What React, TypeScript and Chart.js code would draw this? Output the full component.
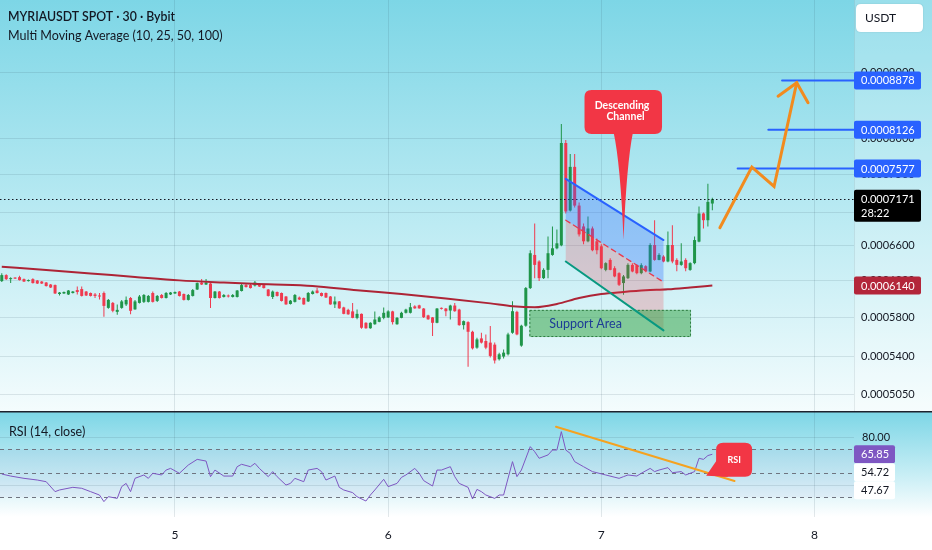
import React, { useEffect, useRef } from "react";
import { Chart, registerables } from "chart.js";

Chart.register(...registerables);

const FONT = "Lato, 'Open Sans', 'DejaVu Sans', sans-serif";
Chart.defaults.font.family = FONT;
Chart.defaults.color = "#131722";

// ---------------- texts ----------------
const titleText = "MYRIAUSDT SPOT · 30 · Bybit";
const indicatorText = "Multi Moving Average (10, 25, 50, 100)";
const rsiTitle = "RSI (14, close)";
const currencyLabel = "USDT";

// ---------------- 30-minute candles (index 0 = first visible candle) ----------------
const candleOpen = [
  0.0006189, 0.0006256, 0.0006211, 0.0006228, 0.0006233, 0.0006211, 0.0006189, 0.0006211, 0.0006195, 0.0006184,
  0.0006173, 0.0006151, 0.0006145, 0.0006047, 0.0006053, 0.0006042, 0.0006058, 0.000609, 0.0006101, 0.0006074,
  0.0006058, 0.0006042, 0.0006031, 0.0006058, 0.0005898, 0.0005951, 0.0005856, 0.0005898, 0.0005935, 0.0006004,
  0.0005882, 0.0005951, 0.0005962, 0.0005962, 0.0006058, 0.0005972, 0.0006036, 0.0006004, 0.0006042, 0.0006053,
  0.0006074, 0.0006047, 0.0005983, 0.0006026, 0.0006096, 0.0006173, 0.0006151, 0.0006162, 0.0006004, 0.0006074,
  0.0006015, 0.0006031, 0.0006015, 0.0006015, 0.000608, 0.0006145, 0.0006145, 0.000614, 0.0006151, 0.0006145,
  0.0006096, 0.0006015, 0.0006069, 0.0006058, 0.000602, 0.000594, 0.0005962, 0.0006009, 0.0006004, 0.0005967,
  0.0006047, 0.0006085, 0.0006058, 0.0006058, 0.000602, 0.0005935, 0.0005967, 0.0005903, 0.0005877, 0.0005861,
  0.0005793, 0.0005835, 0.0005742, 0.0005686, 0.0005727, 0.0005752, 0.0005793, 0.0005798, 0.0005861, 0.0005727,
  0.0005793, 0.0005846, 0.0005846, 0.0005914, 0.0005925, 0.0005891, 0.0005819, 0.0005798, 0.0005742, 0.0005898,
  0.0005891, 0.000587, 0.0005923, 0.000588, 0.0005718, 0.0005749, 0.000565, 0.0005491, 0.0005583, 0.0005557,
  0.0005541, 0.0005521, 0.0005378, 0.0005404, 0.0005426, 0.000564, 0.0005856, 0.0005511, 0.0005712, 0.0006112,
  0.0006487, 0.0006411, 0.0006222, 0.0006315, 0.0006487, 0.0006565, 0.00066, 0.0007933, 0.0007026, 0.00076,
  0.0007089, 0.0006828, 0.0006648, 0.0006803, 0.0006648, 0.0006589, 0.0006315, 0.0006429, 0.0006334, 0.0006278,
  0.0006167, 0.0006222, 0.0006372, 0.0006369, 0.0006278, 0.0006357, 0.0006297, 0.0006604, 0.0006429, 0.0006468,
  0.0006411, 0.0006604, 0.0006429, 0.0006372, 0.0006429, 0.0006315, 0.0006392, 0.0006644, 0.0006989, 0.0006905,
  0.0007115,
];
const candleHigh = [
  0.0006278, 0.0006267, 0.0006233, 0.0006233, 0.000625, 0.0006217, 0.0006206, 0.0006222, 0.00062, 0.0006189,
  0.0006178, 0.0006156, 0.0006151, 0.0006069, 0.0006074, 0.000609, 0.000608, 0.0006129, 0.0006129, 0.000608,
  0.0006063, 0.0006058, 0.0006058, 0.0006074, 0.0005993, 0.0005962, 0.0005934, 0.0005983, 0.000602, 0.0006015,
  0.0005983, 0.0006036, 0.0006047, 0.0006036, 0.0006074, 0.0006036, 0.0006047, 0.0006069, 0.0006069, 0.0006074,
  0.000608, 0.0006053, 0.0006047, 0.0006101, 0.0006173, 0.0006211, 0.0006211, 0.0006167, 0.000608, 0.000608,
  0.0006047, 0.0006042, 0.0006047, 0.000609, 0.0006156, 0.0006167, 0.0006156, 0.0006189, 0.0006156, 0.0006151,
  0.0006101, 0.0006085, 0.0006074, 0.0006063, 0.0006026, 0.0005983, 0.0006047, 0.000602, 0.0006009, 0.0006069,
  0.0006085, 0.0006112, 0.0006063, 0.0006063, 0.0006026, 0.000602, 0.0005972, 0.0005909, 0.0005888, 0.0005951,
  0.0005882, 0.000584, 0.0005747, 0.0005747, 0.0005861, 0.0005809, 0.0005903, 0.0005872, 0.0005867, 0.0005803,
  0.0005856, 0.0005888, 0.0005951, 0.0005925, 0.000593, 0.0005898, 0.0005825, 0.0005803, 0.0005898, 0.0005903,
  0.0005898, 0.000593, 0.0005951, 0.0005888, 0.0005767, 0.0005757, 0.0005661, 0.000559, 0.000564, 0.0005623,
  0.0005708, 0.0005541, 0.0005442, 0.0005472, 0.000564, 0.0005969, 0.0005867, 0.0005722, 0.0006123, 0.0006542,
  0.0006865, 0.0006426, 0.0006334, 0.0006707, 0.0006828, 0.0006791, 0.0008207, 0.0007976, 0.0007779, 0.0007779,
  0.0007127, 0.0006865, 0.0006951, 0.0006828, 0.0006683, 0.0006612, 0.0006403, 0.0006449, 0.0006357, 0.0006289,
  0.0006256, 0.0006392, 0.0006392, 0.000638, 0.0006392, 0.0006369, 0.0006624, 0.0006905, 0.0006507, 0.0006484,
  0.0006767, 0.0006844, 0.0006449, 0.0006624, 0.0006449, 0.0006403, 0.0006707, 0.0007076, 0.0007001, 0.0007373,
  0.0007191,
];
const candleLow = [
  0.0006178, 0.00062, 0.0006167, 0.0006211, 0.0006195, 0.0006178, 0.0006184, 0.0006162, 0.0006156, 0.0006156,
  0.0006129, 0.0006112, 0.0006047, 0.0006031, 0.0006047, 0.0006036, 0.0006053, 0.0006042, 0.000602, 0.0006026,
  0.000602, 0.0006004, 0.0005988, 0.0005804, 0.0005888, 0.0005853, 0.0005825, 0.0005888, 0.0005919, 0.000583,
  0.0005877, 0.0005946, 0.0005951, 0.0005956, 0.0005956, 0.0005962, 0.0005999, 0.0005999, 0.0006036, 0.0006047,
  0.000602, 0.0005978, 0.0005978, 0.000602, 0.000609, 0.0006145, 0.0006145, 0.0005898, 0.0005999, 0.0005999,
  0.0006009, 0.0006009, 0.0006009, 0.0006009, 0.0006074, 0.0006118, 0.0006107, 0.0006129, 0.0006123, 0.0006107,
  0.000602, 0.0005993, 0.000602, 0.0005967, 0.000593, 0.0005935, 0.0005956, 0.0005983, 0.000593, 0.0005962,
  0.0006042, 0.0006053, 0.000602, 0.0006004, 0.000593, 0.0005898, 0.0005888, 0.000583, 0.0005825, 0.0005788,
  0.0005778, 0.0005681, 0.0005681, 0.0005681, 0.0005722, 0.0005747, 0.0005778, 0.0005793, 0.0005725, 0.0005722,
  0.0005788, 0.000584, 0.000584, 0.0005888, 0.0005888, 0.0005793, 0.0005773, 0.0005607, 0.0005737, 0.0005882,
  0.0005811, 0.0005776, 0.0005856, 0.0005711, 0.0005674, 0.0005306, 0.0005472, 0.0005481, 0.0005531, 0.0005475,
  0.0005394, 0.0005337, 0.0005366, 0.0005385, 0.0005413, 0.000563, 0.0005615, 0.0005501, 0.0005701, 0.0006101,
  0.0006222, 0.0006189, 0.0006211, 0.0006222, 0.0006478, 0.0006553, 0.0006589, 0.0006989, 0.0007014, 0.0007064,
  0.0006707, 0.0006612, 0.0006636, 0.000653, 0.0006495, 0.0006323, 0.00063, 0.0006312, 0.0006233, 0.0006134,
  0.000604, 0.0006211, 0.0006289, 0.0006267, 0.0006267, 0.0006289, 0.0006289, 0.000642, 0.0006426, 0.0006403,
  0.0006403, 0.0006392, 0.00063, 0.0006363, 0.00063, 0.0006306, 0.000638, 0.0006636, 0.0006803, 0.0006828,
  0.000703,
];
const candleClose = [
  0.0006256, 0.0006211, 0.0006222, 0.0006217, 0.00062, 0.0006184, 0.00062, 0.0006167, 0.0006162, 0.0006162,
  0.0006134, 0.0006118, 0.0006053, 0.0006063, 0.0006069, 0.0006085, 0.0006074, 0.0006069, 0.0006026, 0.0006031,
  0.0006026, 0.0006026, 0.000602, 0.0005919, 0.0005983, 0.0005867, 0.0005877, 0.0005967, 0.0005983, 0.0005867,
  0.0005967, 0.000602, 0.0006036, 0.0006026, 0.0005962, 0.0006026, 0.0006004, 0.0006058, 0.0006063, 0.0006069,
  0.0006026, 0.0005983, 0.0006036, 0.000609, 0.0006167, 0.0006151, 0.0006173, 0.0006004, 0.0006074, 0.0006004,
  0.0006036, 0.000602, 0.0006036, 0.0006085, 0.0006145, 0.0006123, 0.0006112, 0.0006173, 0.0006129, 0.0006112,
  0.0006026, 0.0006074, 0.0006026, 0.0005972, 0.0005935, 0.0005975, 0.0006036, 0.0005988, 0.0005935, 0.0006058,
  0.0006074, 0.0006058, 0.0006026, 0.0006009, 0.0005935, 0.0005967, 0.0005893, 0.0005835, 0.000583, 0.0005793,
  0.0005835, 0.0005691, 0.0005686, 0.0005742, 0.0005776, 0.0005798, 0.0005846, 0.0005861, 0.0005749, 0.0005793,
  0.0005846, 0.000588, 0.0005905, 0.0005893, 0.0005893, 0.00058, 0.0005778, 0.0005742, 0.0005891, 0.0005888,
  0.0005863, 0.0005923, 0.0005863, 0.0005718, 0.0005759, 0.000565, 0.0005484, 0.0005573, 0.0005541, 0.0005491,
  0.000541, 0.0005366, 0.0005426, 0.0005442, 0.0005623, 0.0005863, 0.0005623, 0.0005712, 0.0006112, 0.0006507,
  0.0006372, 0.0006222, 0.0006315, 0.0006507, 0.0006565, 0.0006624, 0.0007933, 0.0007014, 0.00076, 0.0007089,
  0.0006731, 0.0006648, 0.0006803, 0.0006542, 0.0006542, 0.0006334, 0.0006392, 0.0006315, 0.0006241, 0.0006148,
  0.0006241, 0.0006372, 0.0006297, 0.0006278, 0.0006369, 0.00063, 0.0006604, 0.0006429, 0.0006487, 0.0006411,
  0.0006604, 0.0006411, 0.0006372, 0.0006411, 0.0006334, 0.0006392, 0.0006663, 0.0006989, 0.0006905, 0.0007136,
  0.0007171,
];

// ---------------- time axis ----------------
const dayLabels = ["5", "6", "7", "8"];
const dayStartIndex = [39, 87, 135, 183];
const xRange = [-0.4, 191.9];

// ---------------- price axis ----------------
const priceTicks = [0.000505, 0.00054, 0.00058, 0.00062, 0.00066, 0.0007, 0.00075, 0.0008, 0.0009];
const priceRange = [0.00049247, 0.00102586];
const lastPrice = 0.0007171;
const countdown = "28:22";

// ---------------- moving average (100) ----------------
const maIndex = [0, 10, 20, 30, 40, 50, 60, 70, 80, 90, 100, 110, 115, 120, 125, 130, 135, 140, 145, 150, 155, 160];
const maValue = [
  0.0006351, 0.0006314, 0.0006275, 0.0006235, 0.0006197, 0.0006173, 0.0006153, 0.0006134, 0.0006087, 0.0006047,
  0.0005999, 0.0005946, 0.0005916, 0.0005905, 0.000594, 0.0006004, 0.0006047, 0.0006069, 0.0006087, 0.0006098,
  0.0006118, 0.000614,
];
const maLast = 0.000614;

// ---------------- drawings ----------------
const targetLevels = [0.0007577, 0.0008126, 0.0008878];
const targetStartIndex = [165.7, 172.6, 175.7];

const channelIndex = [127, 149];
const channelUpper = [0.0007438, 0.0006663];
const channelMiddle = [0.0006905, 0.0006178];
const channelLower = [0.0006411, 0.0005664];

const supportIndex = [118.8, 155.2];
const supportPrice = [0.0005597, 0.0005877];
const supportLabel = "Support Area";

const projectionIndex = [161.7, 168.9, 173.9, 179.0];
const projectionPrice = [0.0006812, 0.0007596, 0.0007337, 0.0008841];

const calloutIndex = 140;
const calloutPrice = 0.0006663;
const calloutLines = ["Descending", "Channel"];

// ---------------- RSI (14) ----------------
const rsiIndex = [
  0, 2, 5, 8, 10, 12, 13, 16, 18, 20, 22, 23, 24, 26, 27, 28, 29, 30, 32, 33, 34, 36, 37, 38, 40, 42, 44, 46, 47, 48,
  50, 52, 53, 54, 56, 57, 58, 60, 61, 62, 64, 65, 66, 68, 69, 71, 72, 73, 75, 76, 77, 79, 80, 82, 83, 84, 86, 87, 89,
  90, 91, 93, 94, 95, 97, 98, 99, 101, 102, 103, 105, 106, 107, 108, 109, 111, 112, 113, 115, 116, 117, 119, 120, 121,
  123, 124, 125, 126, 127, 128, 129, 131, 133, 136, 139, 140, 141, 143, 144, 146, 147, 148, 150, 151, 153, 154, 156,
  157, 158, 159, 160,
];
const rsiValue = [
  49.4, 47.7, 45.8, 44.4, 43.0, 34.7, 36.1, 38.3, 37.5, 34.7, 31.9, 26.4, 30.5, 29.1, 38.9, 41.6, 34.7, 45.8, 48.6, 45.8,
  50.0, 48.6, 52.7, 54.1, 50.0, 56.9, 61.6, 60.2, 47.2, 52.7, 47.7, 47.7, 55.5, 57.5, 55.5, 58.3, 54.1, 47.2, 51.4,
  47.2, 40.2, 41.6, 45.8, 43.0, 52.7, 54.1, 51.4, 44.4, 47.7, 38.3, 36.1, 33.9, 30.5, 26.9, 31.9, 36.1, 45.0, 38.9,
  41.6, 46.6, 48.6, 54.1, 50.0, 43.9, 39.4, 52.7, 52.7, 55.5, 47.2, 41.6, 38.3, 28.6, 36.6, 34.7, 31.9, 29.1, 31.9,
  31.9, 59.7, 47.2, 52.7, 72.2, 68.0, 62.5, 65.3, 69.4, 69.4, 84.7, 69.4, 66.6, 59.7, 55.5, 51.4, 48.6, 45.8, 47.2,
  48.6, 47.7, 50.0, 54.1, 51.4, 52.7, 54.7, 50.5, 51.4, 48.6, 51.4, 62.5, 61.6, 64.8, 65.85,
];
const rsiRange = [13.58, 101.08];
const rsiGridTicks = [40, 80];
const rsiBands = [70, 50, 30];
const rsiBadgeValues = [65.85, 54.72, 47.67];
const rsiTrendIndex = [124.8, 165];
const rsiTrendValue = [88.8, 43.6];
const rsiCalloutIndex = 158.6;
const rsiCalloutValue = 48;
const rsiCalloutText = "RSI";

// ---------------- styles ----------------
const UP = "#1f9549";
const DOWN = "#ef3a4f";
const GRID = "rgba(50,80,95,0.13)";
const AXIS_W = 78;

function rr(ctx: any, x: number, y: number, w: number, h: number, r: number) {
  ctx.beginPath();
  ctx.moveTo(x + r, y);
  ctx.lineTo(x + w - r, y);
  ctx.quadraticCurveTo(x + w, y, x + w, y + r);
  ctx.lineTo(x + w, y + h - r);
  ctx.quadraticCurveTo(x + w, y + h, x + w - r, y + h);
  ctx.lineTo(x + r, y + h);
  ctx.quadraticCurveTo(x, y + h, x, y + h - r);
  ctx.lineTo(x, y + r);
  ctx.quadraticCurveTo(x, y, x + r, y);
  ctx.closePath();
}

function badge(ctx: any, x: number, yc: number, w: number, h: number, bg: string, fg: string, text: string) {
  ctx.fillStyle = bg;
  rr(ctx, x, yc - h / 2, w, h, 2);
  ctx.fill();
  ctx.fillStyle = fg;
  ctx.font = `11px ${FONT}`;
  ctx.textAlign = "left";
  ctx.textBaseline = "middle";
  ctx.fillText(text, x + 7, yc + 0.5);
}

const isUp = (i: number) => candleClose[i] >= candleOpen[i];

const mainPlugin = {
  id: "mainDecor",
  beforeDraw(chart: any) {
    const { ctx, chartArea: ca, width, height } = chart;
    ctx.save();
    const g = ctx.createLinearGradient(0, 0, 0, height);
    g.addColorStop(0, "#7dd6e6");
    g.addColorStop(0.55, "#bdebf3");
    g.addColorStop(1, "#f4fcfd");
    ctx.fillStyle = g;
    ctx.fillRect(0, 0, width, height);
    ctx.fillStyle = "rgba(255,255,255,0.22)";
    ctx.fillRect(ca.right, 0, width - ca.right, height);
    ctx.fillStyle = "rgba(40,70,80,0.10)";
    ctx.fillRect(ca.right, 0, 1, height);
    ctx.restore();
  },
  afterDatasetsDraw(chart: any) {
    const { ctx, chartArea: ca } = chart;
    const xs = chart.scales.x;
    const ys = chart.scales.y;
    const X = (v: number) => xs.getPixelForValue(v);
    const Y = (v: number) => ys.getPixelForValue(v);
    ctx.save();
    ctx.beginPath();
    ctx.rect(ca.left, ca.top, ca.right - ca.left, ca.bottom - ca.top);
    ctx.clip();

    // last price dotted line
    const yl = Math.round(Y(lastPrice)) + 0.5;
    ctx.strokeStyle = "#131722";
    ctx.lineWidth = 1;
    ctx.setLineDash([1.5, 2.5]);
    ctx.beginPath();
    ctx.moveTo(ca.left, yl);
    ctx.lineTo(ca.right, yl);
    ctx.stroke();
    ctx.setLineDash([]);

    // channel
    const x0 = X(channelIndex[0]);
    const x1 = X(channelIndex[1]);
    const u0 = Y(channelUpper[0]), u1 = Y(channelUpper[1]);
    const m0 = Y(channelMiddle[0]), m1 = Y(channelMiddle[1]);
    const l0 = Y(channelLower[0]), l1 = Y(channelLower[1]);
    ctx.fillStyle = "rgba(41,98,255,0.3)";
    ctx.beginPath();
    ctx.moveTo(x0, u0); ctx.lineTo(x1, u1); ctx.lineTo(x1, m1); ctx.lineTo(x0, m0);
    ctx.closePath();
    ctx.fill();
    ctx.fillStyle = "rgba(242,54,69,0.22)";
    ctx.beginPath();
    ctx.moveTo(x0, m0); ctx.lineTo(x1, m1); ctx.lineTo(x1, l1); ctx.lineTo(x0, l0);
    ctx.closePath();
    ctx.fill();

    // support area
    const sx0 = X(supportIndex[0]), sx1 = X(supportIndex[1]);
    const sy0 = Y(supportPrice[1]), sy1 = Y(supportPrice[0]);
    ctx.fillStyle = "rgba(56,165,75,0.55)";
    ctx.fillRect(sx0, sy0, sx1 - sx0, sy1 - sy0);
    ctx.strokeStyle = "rgba(30,110,50,0.85)";
    ctx.lineWidth = 1;
    ctx.setLineDash([2, 2]);
    ctx.strokeRect(sx0 + 0.5, sy0 + 0.5, sx1 - sx0 - 1, sy1 - sy0 - 1);
    ctx.setLineDash([]);
    ctx.fillStyle = "#1d3c96";
    ctx.font = `12.5px ${FONT}`;
    ctx.textAlign = "left";
    ctx.textBaseline = "middle";
    ctx.fillText(supportLabel, sx0 + 20, (sy0 + sy1) / 2 + 0.5);

    // channel lines
    ctx.lineCap = "round";
    ctx.strokeStyle = "#2962ff";
    ctx.lineWidth = 2;
    ctx.beginPath(); ctx.moveTo(x0, u0); ctx.lineTo(x1, u1); ctx.stroke();
    ctx.strokeStyle = "#e8394d";
    ctx.lineWidth = 1.3;
    ctx.setLineDash([5, 4]);
    ctx.beginPath(); ctx.moveTo(x0, m0); ctx.lineTo(x1, m1); ctx.stroke();
    ctx.setLineDash([]);
    ctx.strokeStyle = "#089981";
    ctx.lineWidth = 2;
    ctx.beginPath(); ctx.moveTo(x0, l0); ctx.lineTo(x1, l1); ctx.stroke();

    // target lines
    ctx.strokeStyle = "#2962ff";
    ctx.lineWidth = 2;
    targetLevels.forEach((lv, k) => {
      const y = Y(lv);
      ctx.beginPath();
      ctx.moveTo(X(targetStartIndex[k]), y);
      ctx.lineTo(ca.right, y);
      ctx.stroke();
    });

    // projection path with arrow
    ctx.strokeStyle = "#f28b1e";
    ctx.lineWidth = 3;
    ctx.lineJoin = "miter";
    ctx.beginPath();
    projectionIndex.forEach((ix, k) => {
      const px = X(ix), py = Y(projectionPrice[k]);
      if (k === 0) ctx.moveTo(px, py);
      else ctx.lineTo(px, py);
    });
    ctx.stroke();
    const n = projectionIndex.length;
    const tx = X(projectionIndex[n - 1]), ty = Y(projectionPrice[n - 1]);
    const bx = X(projectionIndex[n - 2]), by = Y(projectionPrice[n - 2]);
    const back = Math.atan2(by - ty, bx - tx);
    const al = 23;
    ctx.beginPath();
    ctx.moveTo(tx + al * Math.cos(back + 0.73), ty + al * Math.sin(back + 0.73));
    ctx.lineTo(tx, ty);
    ctx.lineTo(tx + al * Math.cos(back - 0.73), ty + al * Math.sin(back - 0.73));
    ctx.stroke();

    // callout
    const cx = X(calloutIndex), cy = Y(calloutPrice);
    const boxL = cx - 39, boxR = cx + 38.5, boxT = cy - 150, boxB = cy - 106;
    ctx.fillStyle = "#f23645";
    rr(ctx, boxL, boxT, boxR - boxL, boxB - boxT, 7);
    ctx.fill();
    ctx.beginPath();
    ctx.moveTo(cx - 10, boxB - 2);
    ctx.quadraticCurveTo(cx - 3, boxB + 30, cx, cy);
    ctx.quadraticCurveTo(cx + 3, boxB + 30, cx + 9.5, boxB - 2);
    ctx.closePath();
    ctx.fill();
    ctx.fillStyle = "#ffffff";
    ctx.font = `bold 10.5px ${FONT}`;
    ctx.textAlign = "center";
    ctx.textBaseline = "middle";
    ctx.fillText(calloutLines[0], cx - 1.5, boxT + 16);
    ctx.fillText(calloutLines[1], cx + 2, boxT + 27);

    ctx.restore();
  },
  afterDraw(chart: any) {
    const { ctx, chartArea: ca } = chart;
    const ys = chart.scales.y;
    const Y = (v: number) => ys.getPixelForValue(v);
    ctx.save();
    const bx = ca.right;
    targetLevels.forEach((lv) => badge(ctx, bx, Y(lv), 67, 18, "#2962ff", "#ffffff", lv.toFixed(7)));
    // last price + countdown
    const yl = Y(lastPrice);
    ctx.fillStyle = "#000000";
    rr(ctx, bx, yl - 9.5, 67, 32, 2);
    ctx.fill();
    ctx.fillStyle = "#ffffff";
    ctx.font = `11px ${FONT}`;
    ctx.textAlign = "left";
    ctx.textBaseline = "middle";
    ctx.fillText(lastPrice.toFixed(7), bx + 7, yl + 0.5);
    ctx.fillText(countdown, bx + 7, yl + 14.5);
    // MA value
    badge(ctx, bx, Y(maLast), 67, 18, "#b3263a", "#ffffff", maLast.toFixed(7));

    // currency button
    ctx.fillStyle = "#ffffff";
    ctx.shadowColor = "rgba(0,0,0,0.12)";
    ctx.shadowBlur = 2;
    rr(ctx, bx + 2, 4, 67, 28, 5);
    ctx.fill();
    ctx.shadowBlur = 0;
    ctx.fillStyle = "#131722";
    ctx.font = `12px ${FONT}`;
    ctx.fillText(currencyLabel, bx + 11, 18.5);

    // titles
    ctx.fillStyle = "#131722";
    ctx.font = `600 12.5px ${FONT}`;
    ctx.fillText(titleText, 8, 16.5, 167);
    ctx.font = `12.5px ${FONT}`;
    ctx.fillText(indicatorText, 8, 35.5, 219);
    ctx.restore();
  },
};

const rsiPlugin = {
  id: "rsiDecor",
  beforeDraw(chart: any) {
    const { ctx, chartArea: ca, width, height } = chart;
    ctx.save();
    ctx.fillStyle = "#ffffff";
    ctx.fillRect(0, 0, width, height);
    const g = ctx.createLinearGradient(0, ca.top, 0, ca.bottom);
    g.addColorStop(0, "#7dd6e6");
    g.addColorStop(0.6, "#c8eef5");
    g.addColorStop(1, "#ffffff");
    ctx.fillStyle = g;
    ctx.fillRect(0, 0, width, ca.bottom);
    const ys = chart.scales.y;
    ctx.fillStyle = "rgba(126,87,194,0.06)";
    const yTop = ys.getPixelForValue(rsiBands[0]);
    const yBot = ys.getPixelForValue(rsiBands[rsiBands.length - 1]);
    ctx.fillRect(ca.left, yTop, ca.right - ca.left, yBot - yTop);
    ctx.restore();
  },
  beforeDatasetsDraw(chart: any) {
    const { ctx, chartArea: ca } = chart;
    const ys = chart.scales.y;
    ctx.save();
    ctx.strokeStyle = "#6f7480";
    ctx.lineWidth = 1;
    ctx.setLineDash([4, 4]);
    rsiBands.forEach((b) => {
      const y = Math.round(ys.getPixelForValue(b)) + 0.5;
      ctx.beginPath();
      ctx.moveTo(ca.left, y);
      ctx.lineTo(ca.right, y);
      ctx.stroke();
    });
    ctx.restore();
  },
  afterDatasetsDraw(chart: any) {
    const { ctx, chartArea: ca } = chart;
    const xs = chart.scales.x;
    const ys = chart.scales.y;
    const X = (v: number) => xs.getPixelForValue(v);
    const Y = (v: number) => ys.getPixelForValue(v);
    ctx.save();
    ctx.beginPath();
    ctx.rect(ca.left, ca.top, ca.right - ca.left, ca.bottom - ca.top);
    ctx.clip();
    ctx.strokeStyle = "#f5a21f";
    ctx.lineWidth = 2;
    ctx.lineCap = "round";
    ctx.beginPath();
    ctx.moveTo(X(rsiTrendIndex[0]), Y(rsiTrendValue[0]));
    ctx.lineTo(X(rsiTrendIndex[1]), Y(rsiTrendValue[1]));
    ctx.stroke();
    // callout
    const tx = X(rsiCalloutIndex), ty = Y(rsiCalloutValue);
    ctx.fillStyle = "#f23645";
    rr(ctx, tx + 10, ty - 33, 36, 34, 7);
    ctx.fill();
    ctx.beginPath();
    ctx.moveTo(tx + 11, ty - 16);
    ctx.lineTo(tx, ty);
    ctx.lineTo(tx + 22, ty + 1);
    ctx.closePath();
    ctx.fill();
    ctx.fillStyle = "#ffffff";
    ctx.font = `bold 9px ${FONT}`;
    ctx.textAlign = "center";
    ctx.textBaseline = "middle";
    ctx.fillText(rsiCalloutText, tx + 28, ty - 16);
    ctx.restore();
  },
  afterDraw(chart: any) {
    const { ctx, chartArea: ca, width } = chart;
    const ys = chart.scales.y;
    ctx.save();
    // panel separator
    ctx.fillStyle = "#1e222d";
    ctx.fillRect(0, 0, width, 1.5);
    // value badges (pushed apart like the platform does)
    let prev = -Infinity;
    rsiBadgeValues.forEach((v, k) => {
      let y = ys.getPixelForValue(v);
      if (y < prev + 18) y = prev + 18;
      prev = y;
      if (k === 0) badge(ctx, ca.right, y, 41, 18, "#7e57c2", "#ffffff", v.toFixed(2));
      else badge(ctx, ca.right, y, 41, 18, "#ffffff", "#131722", v.toFixed(2));
    });
    ctx.fillStyle = "#131722";
    ctx.font = `12.5px ${FONT}`;
    ctx.textAlign = "left";
    ctx.textBaseline = "middle";
    ctx.fillText(rsiTitle, 9, 21);
    ctx.restore();
  },
};

export default function App() {
  const mainRef = useRef<HTMLCanvasElement>(null);
  const rsiRef = useRef<HTMLCanvasElement>(null);

  useEffect(() => {
    document.body.style.margin = "0";
    const idx = candleOpen.map((_, i) => i);

    const xScaleCommon = (showLabels: boolean) => ({
      type: "linear",
      min: xRange[0],
      max: xRange[1],
      offset: false,
      grid: { color: GRID, drawTicks: false, offset: false },
      border: { display: false },
      ticks: {
        display: showLabels,
        autoSkip: false,
        maxRotation: 0,
        padding: 11,
        color: "#131722",
        font: { size: 12, family: FONT },
        callback: (v: any) => {
          const k = dayStartIndex.indexOf(Number(v));
          return k >= 0 ? dayLabels[k] : "";
        },
      },
      afterBuildTicks: (s: any) => {
        s.ticks = dayStartIndex.map((v) => ({ value: v }));
      },
      afterFit: (s: any) => {
        s.height = showLabels ? 33 : 0;
        s.paddingLeft = 0;
        s.paddingRight = 0;
      },
    });

    const main = new Chart(mainRef.current as HTMLCanvasElement, {
      type: "bar",
      data: {
        datasets: [
          {
            type: "line",
            label: "MA 100",
            data: maIndex.map((x, k) => ({ x, y: maValue[k] })),
            borderColor: "#ad2436",
            borderWidth: 2,
            pointRadius: 0,
            cubicInterpolationMode: "monotone",
            order: 0,
          } as any,
          {
            label: "body",
            data: idx.map((i) => ({ x: i, y: [candleOpen[i], candleClose[i]] })),
            backgroundColor: (c: any) => (isUp(c.dataIndex) ? UP : DOWN),
            barThickness: 3,
            minBarLength: 1,
            grouped: false,
            borderWidth: 0,
            inflateAmount: 0,
            order: 1,
          } as any,
          {
            label: "wick",
            data: idx.map((i) => ({ x: i, y: [candleLow[i], candleHigh[i]] })),
            backgroundColor: (c: any) => (isUp(c.dataIndex) ? UP : DOWN),
            barThickness: 1,
            grouped: false,
            borderWidth: 0,
            inflateAmount: 0,
            order: 2,
          } as any,
        ],
      },
      options: {
        animation: false,
        responsive: false,
        maintainAspectRatio: false,
        layout: { padding: 0 },
        plugins: { legend: { display: false }, tooltip: { enabled: false } },
        scales: {
          x: xScaleCommon(false) as any,
          y: {
            type: "logarithmic",
            position: "right",
            min: priceRange[0],
            max: priceRange[1],
            grid: { color: GRID, drawTicks: false },
            border: { display: false },
            ticks: {
              autoSkip: false,
              padding: 7,
              crossAlign: "near",
              color: "#131722",
              font: { size: 11, family: FONT },
              callback: (v: any) => Number(v).toFixed(7),
            },
            afterBuildTicks: (s: any) => {
              s.ticks = priceTicks.map((v) => ({ value: v }));
            },
            afterFit: (s: any) => {
              s.width = AXIS_W;
              s.paddingTop = 0;
              s.paddingBottom = 0;
            },
          } as any,
        },
      },
      plugins: [mainPlugin],
    });

    const rsi = new Chart(rsiRef.current as HTMLCanvasElement, {
      type: "line",
      data: {
        datasets: [
          {
            label: "RSI",
            data: rsiIndex.map((x, k) => ({ x, y: rsiValue[k] })),
            borderColor: "#7e57c2",
            borderWidth: 1,
            pointRadius: 0,
            tension: 0,
          },
        ],
      },
      options: {
        animation: false,
        responsive: false,
        maintainAspectRatio: false,
        layout: { padding: { top: 1 } },
        plugins: { legend: { display: false }, tooltip: { enabled: false } },
        scales: {
          x: xScaleCommon(true) as any,
          y: {
            type: "linear",
            position: "right",
            min: rsiRange[0],
            max: rsiRange[1],
            grid: { color: GRID, drawTicks: false },
            border: { display: false },
            ticks: {
              autoSkip: false,
              padding: 8,
              crossAlign: "near",
              color: "#131722",
              font: { size: 11, family: FONT },
              callback: (v: any) => (Number(v) === 80 ? Number(v).toFixed(2) : ""),
            },
            afterBuildTicks: (s: any) => {
              s.ticks = rsiGridTicks.map((v) => ({ value: v }));
            },
            afterFit: (s: any) => {
              s.width = AXIS_W;
              s.paddingTop = 0;
              s.paddingBottom = 0;
            },
          } as any,
        },
      },
      plugins: [rsiPlugin],
    });

    return () => {
      main.destroy();
      rsi.destroy();
    };
  }, []);

  return (
    <div style={{ width: 932, height: 550, background: "#ffffff", overflow: "hidden" }}>
      <canvas ref={mainRef} width={932} height={411} style={{ display: "block", width: 932, height: 411 }} />
      <canvas ref={rsiRef} width={932} height={139} style={{ display: "block", width: 932, height: 139 }} />
    </div>
  );
}
